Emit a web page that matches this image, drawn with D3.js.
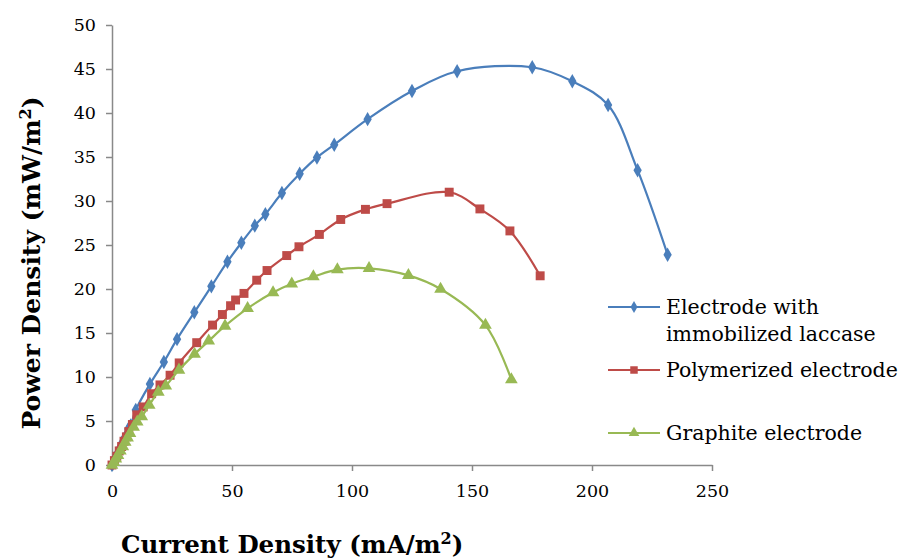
<!DOCTYPE html>
<html>
<head>
<meta charset="utf-8">
<script src="https://cdn.jsdelivr.net/npm/d3@7"></script>
<style>
  body { margin: 0; background: #fff; }
  svg text { font-family: "DejaVu Serif", "Liberation Serif", serif; fill: #000; }
</style>
</head>
<body>
<div id="chart"></div>
<script>
// data: [current density, power density]
const laccase = [[0,0],[1,0.6],[2,1.2],[3,1.8],[4.2,2.5],[5.5,3.2],[6.8,4.1],[7.8,4.5],[9.9,6.25],
  [15.8,9.2],[21.6,11.7],[27.1,14.3],[34.3,17.35],[41.4,20.3],[48.1,23.1],[53.9,25.25],[59.5,27.2],
  [63.9,28.5],[70.8,30.9],[78.2,33.1],[85.4,34.95],[92.6,36.4],[106.5,39.3],[125,42.5],[143.8,44.75],
  [175.1,45.2],[191.8,43.6],[206.7,40.9],[219,33.5],[231.5,23.9]];
const polymerized = [[0,0],[1,0.5],[2,1.0],[3,1.6],[4,2.1],[5,2.7],[6,3.2],[7,3.8],[8.5,4.6],[10.3,5.7],
  [13,6.6],[16.5,8.1],[20,9.1],[24.2,10.2],[28,11.6],[35.3,13.9],[41.9,15.9],[46,17.1],[49.4,18.1],
  [51.5,18.75],[55,19.5],[60.3,21.0],[64.6,22.1],[72.8,23.8],[77.9,24.8],[86.4,26.2],[95.3,27.9],
  [105.6,29.05],[114.6,29.7],[140.5,31.0],[153.3,29.1],[165.8,26.6],[178.4,21.5]];
const graphite = [[0,0],[0.8,0.3],[1.6,0.7],[2.5,1.1],[3.5,1.6],[4.5,2.1],[5.5,2.6],[6.5,3.1],[7.5,3.6],
  [9,4.3],[10.5,4.9],[12.4,5.5],[15.5,6.8],[19.3,8.3],[22.4,9.0],[27.9,10.8],[34.4,12.6],[40.3,14.1],
  [47.1,15.8],[56.5,17.8],[67.1,19.6],[74.9,20.6],[83.9,21.4],[93.9,22.2],[107.1,22.35],[123.5,21.55],
  [136.9,20.0],[155.6,15.9],[166.4,9.7]];

const xTicks = [0, 50, 100, 150, 200, 250];
const yTicks = [0, 5, 10, 15, 20, 25, 30, 35, 40, 45, 50];

const series = [
  { name: ["Electrode with", "immobilized laccase"], values: laccase, color: "#4a7ebb", symbol: d3.symbolDiamond, size: 60, legendY: 307 },
  { name: ["Polymerized electrode"], values: polymerized, color: "#be4b48", symbol: d3.symbolSquare, size: 80, legendY: 370 },
  { name: ["Graphite electrode"], values: graphite, color: "#98b954", symbol: d3.symbolTriangle, size: 70, legendY: 433 }
];

const width = 910, height = 558;
const svg = d3.select("#chart").append("svg")
  .attr("width", width)
  .attr("height", height);

const x = d3.scaleLinear().domain([0, 250]).range([112, 712]);
const y = d3.scaleLinear().domain([0, 50]).range([465, 25]);

/* axes */
const axisColor = "#898989";
const xAxis = svg.append("g")
  .attr("transform", `translate(0, ${y(0)})`)
  .call(d3.axisBottom(x).tickValues(xTicks).tickSize(6).tickPadding(14).tickSizeOuter(0));
const yAxis = svg.append("g")
  .attr("transform", `translate(${x(0)}, 0)`)
  .call(d3.axisLeft(y).tickValues(yTicks).tickSize(6).tickPadding(10).tickSizeOuter(0));
[xAxis, yAxis].forEach(a => {
  a.select(".domain").attr("stroke", axisColor).attr("stroke-width", 1.5);
  a.selectAll(".tick line").attr("stroke", axisColor).attr("stroke-width", 1.5);
  a.selectAll(".tick text").style("font-size", "17.5px").attr("fill", "#000");
});

/* lines */
const line = d3.line()
  .x(d => x(d[0]))
  .y(d => y(d[1]))
  .curve(d3.curveCatmullRom.alpha(0.5));

const groups = svg.selectAll(".series")
  .data(series).enter()
  .append("g")
  .attr("class", "series");

groups.append("path")
  .attr("d", d => line(d.values))
  .attr("fill", "none")
  .attr("stroke", d => d.color)
  .attr("stroke-width", 2.2);

groups.each(function(s) {
  d3.select(this).selectAll("path.pt")
    .data(s.values).enter()
    .append("path")
    .attr("class", "pt")
    .attr("d", d3.symbol().type(s.symbol).size(s.size))
    .attr("transform", d => `translate(${x(d[0])}, ${y(d[1])})`)
    .attr("fill", s.color);
});

/* legend */
const legend = svg.append("g");
series.forEach(s => {
  legend.append("line")
    .attr("x1", 608).attr("x2", 660)
    .attr("y1", s.legendY).attr("y2", s.legendY)
    .attr("stroke", s.color).attr("stroke-width", 2.2);
  legend.append("path")
    .attr("d", d3.symbol().type(s.symbol).size(s.size * 0.7))
    .attr("transform", `translate(634, ${s.legendY})`)
    .attr("fill", s.color);
  s.name.forEach((t, i) => {
    legend.append("text")
      .attr("x", 666)
      .attr("y", s.legendY + 7 + i * 27)
      .style("font-size", "20.5px")
      .text(t);
  });
});

/* axis titles */
const yt = svg.append("text")
  .attr("transform", `translate(40, 263) rotate(-90)`)
  .attr("text-anchor", "middle")
  .style("font-size", "25px")
  .style("font-weight", "bold");
yt.append("tspan").text("Power Density (mW/m");
yt.append("tspan").attr("dy", -9).style("font-size", "16px").text("2");
yt.append("tspan").attr("dy", 9).text(")");

const xt = svg.append("text")
  .attr("x", 121)
  .attr("y", 553)
  .style("font-size", "24.5px")
  .style("font-weight", "bold");
xt.append("tspan").text("Current Density (mA/m");
xt.append("tspan").attr("dy", -9).style("font-size", "16px").text("2");
xt.append("tspan").attr("dy", 9).text(")");
</script>
</body>
</html>
